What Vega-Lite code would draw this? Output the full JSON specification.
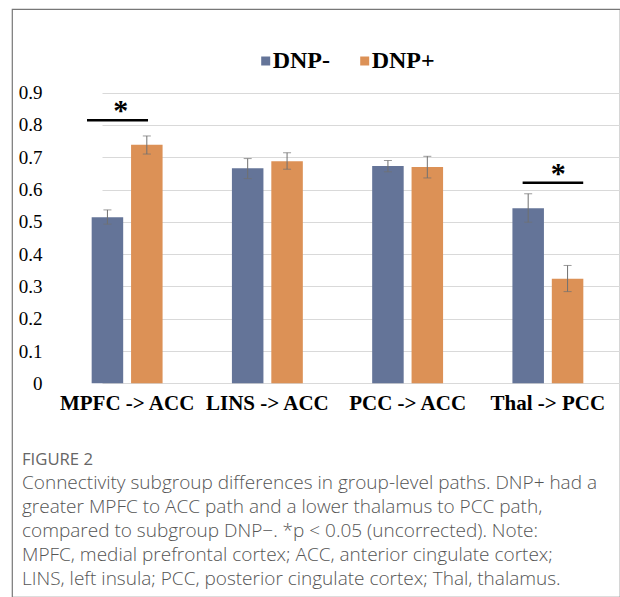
{
  "$schema": "https://vega.github.io/schema/vega-lite/v6.json",
  "autosize": {"type": "none"},
  "padding": {"left": 12, "top": 9, "right": 0, "bottom": 0},
  "width": 608,
  "height": 588,
  "background": "white",
  "view": {"stroke": "#777777", "strokeWidth": 1.2, "fill": "white"},
  "config": {
    "axisY": {
      "title": null,
      "orient": "left",
      "offset": -45,
      "domain": false,
      "ticks": false,
      "grid": true,
      "gridColor": "#d9d9d9",
      "gridWidth": 1,
      "labelFont": "Liberation Serif, Times New Roman, serif",
      "labelFontSize": 19,
      "labelColor": "#000000",
      "labelPadding": 15
    },
    "axisX": {
      "title": null,
      "offset": -213.7,
      "domain": false,
      "ticks": false,
      "grid": false,
      "labelAngle": 0,
      "labelFont": "Liberation Serif",
      "labelFontWeight": "bold",
      "labelFontSize": 21,
      "labelColor": "#000000",
      "labelPadding": 9,
      "labelLimit": 300
    }
  },
  "title": {
    "text": "FIGURE 2",
    "subtitle": [
      "Connectivity subgroup differences in group-level paths. DNP+ had a",
      "greater MPFC to ACC path and a lower thalamus to PCC path,",
      "compared to subgroup DNP\u2212. *p < 0.05 (uncorrected). Note:",
      "MPFC, medial prefrontal cortex; ACC, anterior cingulate cortex;",
      "LINS, left insula; PCC, posterior cingulate cortex; Thal, thalamus."
    ],
    "orient": "bottom",
    "anchor": "start",
    "frame": "group",
    "offset": -145,
    "dx": 10,
    "font": "Open Sans",
    "fontSize": 16.7,
    "fontWeight": 400,
    "color": "#666666",
    "subtitleFont": "Open Sans",
    "subtitleFontSize": 19,
    "subtitleFontWeight": 300,
    "subtitleColor": "#555555",
    "subtitleLineHeight": 24,
    "subtitlePadding": 5
  },
  "datasets": {
    "bars": [
      {"path": "MPFC -> ACC", "group": "DNP-", "value": 0.514, "lo": 0.493, "hi": 0.537},
      {"path": "MPFC -> ACC", "group": "DNP+", "value": 0.739, "lo": 0.710, "hi": 0.766},
      {"path": "LINS -> ACC", "group": "DNP-", "value": 0.666, "lo": 0.634, "hi": 0.696},
      {"path": "LINS -> ACC", "group": "DNP+", "value": 0.688, "lo": 0.663, "hi": 0.714},
      {"path": "PCC -> ACC", "group": "DNP-", "value": 0.673, "lo": 0.655, "hi": 0.690},
      {"path": "PCC -> ACC", "group": "DNP+", "value": 0.670, "lo": 0.636, "hi": 0.703},
      {"path": "Thal -> PCC", "group": "DNP-", "value": 0.542, "lo": 0.499, "hi": 0.587},
      {"path": "Thal -> PCC", "group": "DNP+", "value": 0.324, "lo": 0.284, "hi": 0.365}
    ],
    "sig": [
      {"path": "MPFC -> ACC", "y": 0.815, "star": "*"},
      {"path": "Thal -> PCC", "y": 0.621, "star": "*"}
    ]
  },
  "encoding": {
    "x": {
      "field": "path",
      "type": "nominal",
      "sort": ["MPFC -> ACC", "LINS -> ACC", "PCC -> ACC", "Thal -> PCC"],
      "scale": {"range": [45, 606], "paddingInner": 0, "paddingOuter": 0},
      "axis": {"orient": "bottom"}
    }
  },
  "layer": [
    {
      "data": {"name": "bars"},
      "mark": {"type": "bar"},
      "encoding": {
        "xOffset": {
          "field": "group",
          "type": "nominal",
          "sort": ["DNP-", "DNP+"],
          "scale": {"paddingInner": 0.2, "paddingOuter": 0.88}
        },
        "y": {
          "field": "value",
          "type": "quantitative",
          "scale": {"domain": [0, 0.9], "range": [374.3, 83.7], "nice": false, "zero": true},
          "axis": {
            "values": [0, 0.1, 0.2, 0.3, 0.4, 0.5, 0.6, 0.7, 0.8, 0.9],
            "labelExpr": "datum.value == 0 ? '0' : format(datum.value, '.1f')",
            "labelFont": "Liberation Serif, Times New Roman, serif",
            "labelFontWeight": "normal"
          }
        },
        "color": {
          "field": "group",
          "type": "nominal",
          "sort": ["DNP-", "DNP+"],
          "scale": {"domain": ["DNP-", "DNP+"], "range": ["#647498", "#dc9156"]},
          "legend": {
            "title": null,
            "orient": "none",
            "direction": "horizontal",
            "legendX": 241.7,
            "legendY": 40,
            "padding": 0,
            "symbolType": "square",
            "symbolSize": 81,
            "symbolStrokeWidth": 0,
            "labelFont": "Liberation Serif",
            "labelFontWeight": "bold",
            "labelFontSize": 24,
            "labelColor": "#000000",
            "labelOffset": -5,
            "columnPadding": 22
          }
        }
      }
    },
    {
      "data": {"name": "bars"},
      "mark": {"type": "rule", "color": "#707070", "strokeWidth": 1},
      "encoding": {
        "xOffset": {"field": "group", "type": "nominal", "sort": ["DNP-", "DNP+"]},
        "y": {"field": "lo", "type": "quantitative"},
        "y2": {"field": "hi"}
      }
    },
    {
      "data": {"name": "bars"},
      "mark": {"type": "tick", "color": "#707070", "size": 8, "thickness": 1, "orient": "horizontal"},
      "encoding": {
        "xOffset": {"field": "group", "type": "nominal", "sort": ["DNP-", "DNP+"]},
        "y": {"field": "lo", "type": "quantitative"}
      }
    },
    {
      "data": {"name": "bars"},
      "mark": {"type": "tick", "color": "#707070", "size": 8, "thickness": 1, "orient": "horizontal"},
      "encoding": {
        "xOffset": {"field": "group", "type": "nominal", "sort": ["DNP-", "DNP+"]},
        "y": {"field": "hi", "type": "quantitative"}
      }
    },
    {
      "data": {"name": "sig"},
      "transform": [{"filter": "datum.path == 'MPFC -> ACC'"}],
      "layer": [
        {"mark": {"type": "rule", "color": "#000000", "strokeWidth": 2.5},
         "encoding": {
           "x": {"field": "path", "type": "nominal", "bandPosition": 0.214},
           "x2": {"field": "path", "bandPosition": 0.649},
           "y": {"field": "y", "type": "quantitative"}
         }},
        {"mark": {"type": "text", "font": "Liberation Serif", "fontWeight": "bold", "fontSize": 30, "baseline": "alphabetic", "align": "center", "color": "#000000"},
         "encoding": {
           "x": {"field": "path", "type": "nominal", "bandPosition": 0.455},
           "y": {"field": "y", "type": "quantitative"},
           "text": {"field": "star"}
         }}
      ]
    },
    {
      "data": {"name": "sig"},
      "transform": [{"filter": "datum.path == 'Thal -> PCC'"}],
      "layer": [
        {"mark": {"type": "rule", "color": "#000000", "strokeWidth": 2.5},
         "encoding": {
           "x": {"field": "path", "type": "nominal", "bandPosition": 0.32},
           "x2": {"field": "path", "bandPosition": 0.752},
           "y": {"field": "y", "type": "quantitative"}
         }},
        {"mark": {"type": "text", "font": "Liberation Serif", "fontWeight": "bold", "fontSize": 30, "baseline": "alphabetic", "align": "center", "color": "#000000"},
         "encoding": {
           "x": {"field": "path", "type": "nominal", "bandPosition": 0.574},
           "y": {"field": "y", "type": "quantitative"},
           "text": {"field": "star"}
         }}
      ]
    }
  ]
}
